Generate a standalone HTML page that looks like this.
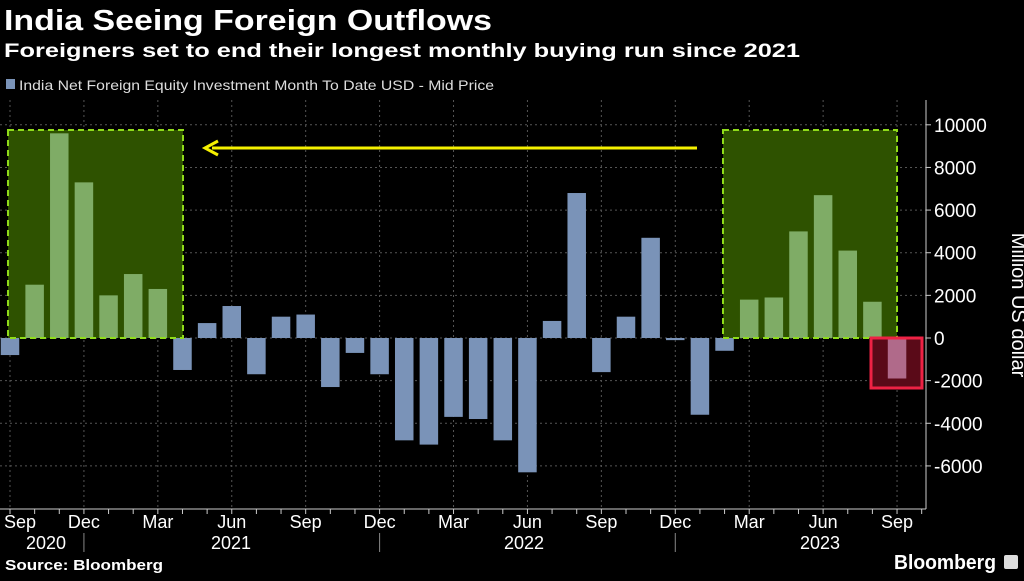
<!DOCTYPE html>
<html><head><meta charset="utf-8"><style>
body{margin:0;background:#000;width:1024px;height:576px;overflow:hidden;font-family:"Liberation Sans",sans-serif;color:#fff}
svg text{font-family:"Liberation Sans",sans-serif}
</style></head><body>
<svg id="c" width="1024" height="576">
<text x="4" y="30" font-size="29" font-weight="bold" fill="#fff" textLength="488" lengthAdjust="spacingAndGlyphs">India Seeing Foreign Outflows</text>
<text x="4" y="57" font-size="19" font-weight="bold" fill="#fff" textLength="796" lengthAdjust="spacingAndGlyphs">Foreigners set to end their longest monthly buying run since 2021</text>
<rect x="6" y="79" width="9" height="10" fill="#7a93b8"/>
<text x="19" y="90" font-size="14" fill="#ddd" textLength="475" lengthAdjust="spacingAndGlyphs">India Net Foreign Equity Investment Month To Date USD - Mid Price</text>
<g id="grid"></g>
<rect x="8" y="130" width="175" height="208" fill="#2e5200"/>
<rect x="723" y="130" width="174" height="208" fill="#2e5200"/>
<rect x="871" y="338" width="51" height="50" fill="#5a0a18"/>
<g id="bars"></g>
<rect x="8" y="130" width="175" height="208" fill="none" stroke="#8fdc1a" stroke-width="2" stroke-dasharray="6,4"/>
<rect x="723" y="130" width="174" height="208" fill="none" stroke="#8fdc1a" stroke-width="2" stroke-dasharray="6,4"/>
<rect x="871" y="338" width="51" height="50" fill="none" stroke="#ee2244" stroke-width="3"/>
<line x1="697" y1="148" x2="212" y2="148" stroke="#f5f000" stroke-width="3"/>
<polyline points="218,141 205,148 218,155" fill="none" stroke="#f5f000" stroke-width="3"/>
<line x1="926" y1="100" x2="926" y2="509" stroke="#ccc"/>
<line x1="0" y1="509" x2="926" y2="509" stroke="#ccc"/>
<g id="axes"></g>
<text transform="translate(1012,305) rotate(90)" font-size="20" fill="#fff" text-anchor="middle">Million US dollar</text>
<text x="5" y="570" font-size="15" font-weight="bold" fill="#fff" textLength="158" lengthAdjust="spacingAndGlyphs">Source: Bloomberg</text>
<text x="894" y="569" font-size="20" font-weight="bold" fill="#fff" textLength="102" lengthAdjust="spacingAndGlyphs">Bloomberg</text>
<rect x="1004" y="555" width="14" height="14" rx="2" fill="#ddd"/>
</svg>
<script>
const values=[-800,2500,9600,7300,2000,3000,2300,-1500,700,1500,-1700,1000,1100,-2300,-700,-1700,-4800,-5000,-3700,-3800,-4800,-6300,800,6800,-1600,1000,4700,-100,-3600,-600,1800,1900,5000,6700,4100,1700,-1900];
const yTicks=[10000,8000,6000,4000,2000,0,-2000,-4000,-6000];
const monthLabels=["Sep","Dec","Mar","Jun","Sep","Dec","Mar","Jun","Sep","Dec","Mar","Jun","Sep"];
const yearLabels=["2020","2021","2022","2023"];
const NS="http://www.w3.org/2000/svg";
const x=i=>10+24.64*i, y=v=>338-v*0.02132;
function mk(t,a,p){const e=document.createElementNS(NS,t);for(const k in a)e.setAttribute(k,a[k]);p.appendChild(e);return e;}
const grid=document.getElementById('grid'),bars=document.getElementById('bars'),axes=document.getElementById('axes');
yTicks.forEach(v=>{
 const l=mk('line',{x1:0,x2:926,y1:y(v),y2:y(v),stroke:'#555','stroke-dasharray':'2,3'},grid);
 
 
 const t=mk('text',{x:934,y:y(v)+7,'font-size':19,fill:'#fff'},axes);t.textContent=v;
 
 
 mk('line',{x1:926,x2:931,y1:y(v),y2:y(v),stroke:'#ccc'},axes);
});
monthLabels.forEach((m,k)=>{
 const xx=x(k*3);
 const l=mk('line',{x1:xx,x2:xx,y1:100,y2:509,stroke:'#555','stroke-dasharray':'2,3'},grid);
 
 
 const t=mk('text',{x:Math.max(xx,20),y:528,'font-size':18,fill:'#fff','text-anchor':'middle'},axes);t.textContent=m;
 
 
});
for(let i=0;i<=37;i++){mk('line',{x1:x(i),x2:x(i),y1:509,y2:514,stroke:'#ccc'},axes);}
const yearX=[46,231,524,820];
yearLabels.forEach((yr,k)=>{
 const t=mk('text',{x:yearX[k],y:549,'font-size':18,fill:'#fff','text-anchor':'middle'},axes);t.textContent=yr;
 
 
});
[3,15,27].forEach(i=>mk('line',{x1:x(i),x2:x(i),y1:533,y2:552,stroke:'#888'},axes));
values.forEach((v,i)=>{
 let col='#7a93b8';
 if((i>=1&&i<=6)||(i>=30&&i<=35))col='#7fac66';
 if(i===36)col='#b06a8a';
 const cx=x(i),top=Math.min(y(v),y(0)),h=Math.abs(y(v)-y(0));
 const r=mk('rect',{x:cx-9.25,y:top,width:18.5,height:Math.max(h,1),fill:col},bars);
 
 
});
</script>
</body></html>
